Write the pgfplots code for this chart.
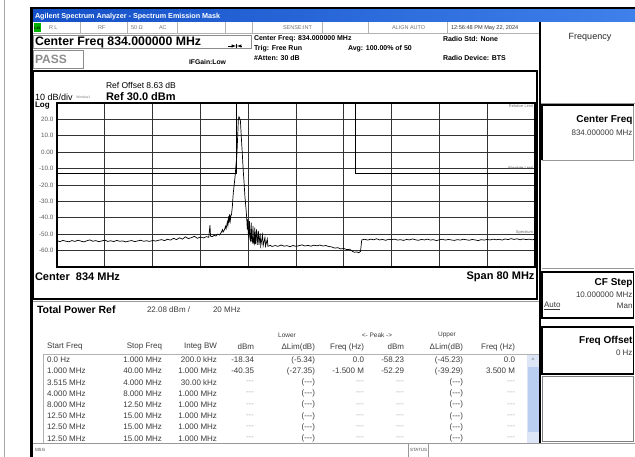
\documentclass[border=0pt]{standalone}
\usepackage{fontspec}
\setmainfont{Liberation Sans}
\usepackage{pgfplots}
\pgfplotsset{compat=1.18}
\newcommand{\fs}[1]{\fontsize{#1}{#1}\selectfont}
\definecolor{tbarL}{HTML}{1450C8}
\definecolor{tbarR}{HTML}{3F80EA}
\definecolor{txt}{HTML}{3A3A3A}
\definecolor{lgray}{HTML}{B0B0B0}
\definecolor{sbar}{HTML}{DCE6F7}
\definecolor{sthumb}{HTML}{B9CEF0}
\newcommand{\trow}[9]{%
  \node[anchor=west] at (47,\ry) {#1};
  \node[anchor=east] at (162,\ry) {#2};
  \node[anchor=east] at (217,\ry) {#3};
  \node[anchor=east] at (254,\ry) {#4};
  \node[anchor=east] at (315,\ry) {#5};
  \node[anchor=east] at (364,\ry) {#6};
  \node[anchor=east] at (404,\ry) {#7};
  \node[anchor=east] at (463,\ry) {#8};
  \node[anchor=east] at (515,\ry) {#9};}
\newcommand{\dsh}{\textcolor{lgray}{{-}{-}{-}}}
\newcommand{\pdsh}{({-}{-}{-})}
\begin{document}
\begin{tikzpicture}
\useasboundingbox (0pt,0pt) rectangle (635pt,-457pt);
\begin{scope}[x=1pt,y=-1pt,every node/.style={inner sep=0pt,outer sep=0pt}]
% left gray strip line
\draw[black!35,line width=1pt] (4,0) -- (4,457);
% window frame
\fill[black] (30,7) rectangle (635,10);
\fill[black] (30,7) rectangle (33,457);
% title bar
\shade[left color=tbarL,right color=tbarR] (33,10) rectangle (635,22);
\node[anchor=west,text=white] at (35,16.3) {\fs{7.2}\bfseries Agilent Spectrum Analyzer - Spectrum Emission Mask};
% status row
\fill[white] (33,22) rectangle (635,33);
\draw[black!30,line width=0.5pt] (33,33) -- (540,33);
\foreach \xx in {80,127,177,225,252,322,368,447} \draw[black!30,line width=0.5pt] (\xx,22.5) -- (\xx,33);
\fill[green!70!black] (33.5,23.5) rectangle (41,32);
\node[text=black] at (37.2,28) {\fs{3.5}\bfseries LXI};
\node[anchor=west,text=black!55] at (49,28) {\fs{5.5}R L};
\node[anchor=west,text=black!55] at (98,28) {\fs{5.5}RF};
\node[anchor=west,text=black!55] at (131,28) {\fs{5.5}50 Ω};
\node[anchor=west,text=black!55] at (159,28) {\fs{5.5}AC};
\node[anchor=west,text=black!55] at (283,28) {\fs{5.5}SENSE:INT};
\node[anchor=west,text=black!55] at (392,28) {\fs{5.5}ALIGN AUTO};
\node[anchor=west,text=black!80] at (451,28) {\fs{5.6}12:56:48 PM May 22, 2024};
% header zone
\draw[black!45,line width=0.6pt] (33.5,35) rectangle (251,48);
\node[anchor=west] at (35,42.3) {\fs{12.3}\bfseries Center Freq 834.000000 MHz};
\draw[black!45,line width=0.6pt] (33.5,50) rectangle (83,68);
\node[anchor=west,text=black!45] at (35,59) {\fs{12}\bfseries PASS};
\node[anchor=west] at (189,62) {\fs{6.8}\bfseries IFGain:Low};
\draw[black,line width=0.5pt,-latex] (228,46) -- (236,46);
\draw[black,line width=0.5pt] (236.5,44) -- (236.5,48);
\draw[black,line width=0.5pt,latex-] (237,46) -- (242,46);
\node[anchor=west] at (254,39) {\fs{7}\bfseries Center Freq: 834.000000 MHz};
\node[anchor=west] at (254,48.5) {\fs{7}\bfseries Trig: Free Run};
\node[anchor=west] at (348,48.5) {\fs{7}\bfseries Avg: 100.00\% of 50};
\node[anchor=west] at (254,58.5) {\fs{7}\bfseries \#Atten: 30 dB};
\node[anchor=west] at (443,39) {\fs{7}\bfseries Radio Std: None};
\node[anchor=west] at (443,58.5) {\fs{7}\bfseries Radio Device: BTS};
% plot box
\draw[black,line width=2pt] (33,71) rectangle (537,299);
\node[anchor=west] at (106,85) {\fs{8.5}Ref Offset 8.63 dB};
\node[anchor=west] at (35,97.5) {\fs{9}10 dB/div};
\node[anchor=west,text=black!50] at (76,97.5) {\fs{3.5}Window1};
\node[anchor=west] at (106,97) {\fs{11}\bfseries Ref 30.0 dBm};
\node[anchor=west] at (35,105.5) {\fs{8}\bfseries Log};
\node[anchor=west] at (35,277) {\fs{11}\bfseries Center\ \ 834 MHz};
\node[anchor=east] at (534.5,277) {\fs{11}\bfseries Span 80 MHz};
\end{scope}
\begin{axis}[
  at={(57pt,-267pt)}, anchor=south west, scale only axis,
  width=478pt, height=164pt,
  xmin=-40, xmax=40, ymin=-70, ymax=30,
  xtick={-32,-24,...,32}, xticklabels={},
  ytick={-60,-50,...,20},
  yticklabels={-60.0,-50.0,-40.0,-30.0,-20.0,-10.0,0.00,10.0,20.0},
  yticklabel style={font=\fs{6.3}, text=black!65},
  grid=major, major grid style={black!80, line width=0.6pt},
  major tick length=0pt,
  axis line style={black, line width=1.2pt},
  clip=true]
\addplot[black, line width=0.6pt] coordinates {(-40,-13) (-10,-13) (-10,30)};
\addplot[black, line width=0.6pt] coordinates {(10,30) (10,-13) (40,-13)};
\addplot[black, line width=0.7pt] coordinates {
(-40,-54.0) (-39.5,-54.5) (-39,-53.8) (-38.5,-54.3) (-38,-54.6) (-37.5,-53.9) (-37,-54.4) (-36.5,-53.7)
(-36,-54.2) (-35.5,-54.7) (-35,-54.0) (-34.5,-53.5) (-34,-54.3) (-33.5,-53.9) (-33,-54.6) (-32.5,-54.1)
(-32,-53.6) (-31.5,-54.4) (-31,-54.0) (-30.5,-54.5) (-30,-53.8) (-29.5,-54.3) (-29,-54.1) (-28.5,-54.7)
(-28,-54.2) (-27.5,-53.9) (-27,-54.5) (-26.5,-54.1) (-26,-53.7) (-25.5,-54.3) (-25,-54.0) (-24.5,-54.4)
(-24,-53.8) (-23.5,-54.2) (-23,-53.7) (-22.5,-53.3) (-22,-53.9) (-21.5,-53.1) (-21,-53.6) (-20.5,-52.5)
(-20,-53.3) (-19.5,-52.2) (-19,-53.0) (-18.5,-51.6) (-18,-52.7) (-17.5,-52.1) (-17,-51.3) (-16.5,-52.5)
(-16,-51.7) (-15.5,-52.3) (-15,-51.5) (-14.6,-51.9) (-14.4,-44.5) (-14.3,-51.2) (-14,-51.5) (-13.7,-50.7)
(-13.4,-51.1) (-13.1,-49.9) (-12.8,-50.5) (-12.5,-48.9) (-12.3,-47.2) (-12.2,-48.7) (-12.0,-47.5) (-11.8,-45.2)
(-11.7,-46.7) (-11.5,-42.7) (-11.4,-44.7) (-11.3,-39.2) (-11.2,-43.2) (-11.1,-37.7) (-11.0,-41.7) (-10.9,-38.7)
(-10.8,-38.2) (-10.65,-33) (-10.5,-25) (-10.35,-20) (-10.2,-15) (-10.05,-8) (-9.9,-2) (-9.78,8)
(-9.65,19.6) (-9.55,21.6) (-9.45,21.0) (-9.3,19.0) (-9.15,9) (-9.0,0) (-8.85,-10) (-8.7,-18)
(-8.55,-27) (-8.4,-33) (-8.25,-40) (-8.15,-47) (-8.1,-41) (-8.0,-49) (-7.9,-52) (-7.8,-42)
(-7.7,-53) (-7.6,-54) (-7.5,-43) (-7.4,-54) (-7.3,-55) (-7.2,-45) (-7.1,-55) (-7.0,-56)
(-6.9,-46) (-6.8,-56) (-6.6,-47) (-6.5,-56.5) (-6.3,-48) (-6.2,-56.5) (-6.0,-49.5) (-5.9,-57)
(-5.6,-50.5) (-5.5,-57) (-5.2,-52) (-5.1,-57.3) (-4.8,-53) (-4.7,-57.4) (-4.3,-56.8) (-4.0,-57.5)
(-3.5,-56.9) (-3.0,-57.4) (-2.5,-56.6) (-2.0,-57.3) (-1.5,-57.0) (-1.0,-57.6) (-0.5,-56.9) (0,-57.4)
(0.5,-57.0) (1.0,-56.5) (1.5,-57.2) (2.0,-56.8) (2.5,-57.3) (3.0,-56.7) (3.5,-57.1) (4.0,-56.6)
(4.5,-57.2) (5.0,-56.9) (5.5,-57.5) (6.0,-57.8) (6.5,-58.5) (7.0,-58.2) (7.5,-59.0) (8.0,-58.7)
(8.5,-59.4) (9.0,-59.2) (9.5,-60.6) (9.8,-61.0) (10.2,-60.8) (10.5,-61.3) (10.8,-60.5) (11.0,-53.5)
(11.5,-53.1) (12,-53.6) (12.5,-53.0) (13,-53.4) (13.5,-52.8) (14,-53.5) (14.5,-53.2) (15,-53.7)
(15.5,-53.1) (16,-53.4) (16.5,-53.0) (17,-53.6) (17.5,-53.3) (18,-53.8) (18.5,-53.2) (19,-53.5)
(19.5,-52.9) (20,-53.4) (20.5,-53.7) (21,-53.2) (21.5,-53.5) (22,-53.0) (22.5,-53.6) (23,-53.3)
(23.5,-53.9) (24,-53.4) (24.5,-53.1) (25,-53.6) (25.5,-53.2) (26,-53.5) (26.5,-53.8) (27,-53.3)
(27.5,-53.6) (28,-53.1) (28.5,-53.4) (29,-53.7) (29.5,-53.2) (30,-53.5) (30.5,-53.9) (31,-53.3)
(31.5,-53.6) (32,-53.2) (32.5,-53.5) (33,-53.0) (33.5,-53.4) (34,-53.1) (34.5,-53.6) (35,-52.9)
(35.5,-53.3) (36,-52.7) (36.5,-53.2) (37,-52.8) (37.5,-53.4) (38,-52.9) (38.5,-53.3) (39,-53.0)
(39.5,-53.4) (40,-53.1)};
\end{axis}
\begin{scope}[x=1pt,y=-1pt,every node/.style={inner sep=0pt,outer sep=0pt}]
\node[anchor=east,text=black!55] at (533,106) {\fs{4}Relative Limit};
\node[anchor=east,text=black!70] at (533,168) {\fs{4}Absolute Limit};
\node[anchor=east,text=black!60] at (533,233) {\fs{4}Spectrum};
% total power section
\draw[black!40,line width=0.8pt] (33,301) -- (540,301);
\node[anchor=west] at (37,309.5) {\fs{10.5}\bfseries Total Power Ref};
\node[anchor=west,text=txt] at (147,310) {\fs{8}22.08 dBm /};
\node[anchor=west,text=txt] at (213,310) {\fs{8}20 MHz};
\begin{scope}[every node/.append style={text=txt,font=\fs{6.5}}]
\node at (287,335) {Lower};
\node at (377,335) {<- Peak ->};
\node at (447,335) {Upper};
\end{scope}
\def\ry{347}
\begin{scope}[every node/.append style={text=txt,font=\fs{8}}]
\trow{Start Freq}{Stop Freq}{Integ BW}{dBm}{ΔLim(dB)}{Freq (Hz)}{dBm}{ΔLim(dB)}{Freq (Hz)}
\end{scope}
\draw[black!30,line width=0.6pt] (43.5,354) rectangle (540,444);
\fill[sbar] (527,355) rectangle (539.5,443);
\fill[sthumb] (528,367) rectangle (538.5,432);
\node[text=black!60] at (533,360) {\fs{6}\^{}};
\begin{scope}[every node/.append style={text=txt,font=\fs{8}}]
\def\ry{360}\trow{0.0 Hz}{1.000 MHz}{200.0 kHz}{-18.34}{(-5.34)}{0.0}{-58.23}{(-45.23)}{0.0}
\def\ry{371.2}\trow{1.000 MHz}{40.00 MHz}{1.000 MHz}{-40.35}{(-27.35)}{-1.500 M}{-52.29}{(-39.29)}{3.500 M}
\def\ry{382.4}\trow{3.515 MHz}{4.000 MHz}{30.00 kHz}{\dsh}{\pdsh}{\dsh}{\dsh}{\pdsh}{\dsh}
\def\ry{393.6}\trow{4.000 MHz}{8.000 MHz}{1.000 MHz}{\dsh}{\pdsh}{\dsh}{\dsh}{\pdsh}{\dsh}
\def\ry{404.8}\trow{8.000 MHz}{12.50 MHz}{1.000 MHz}{\dsh}{\pdsh}{\dsh}{\dsh}{\pdsh}{\dsh}
\def\ry{416}\trow{12.50 MHz}{15.00 MHz}{1.000 MHz}{\dsh}{\pdsh}{\dsh}{\dsh}{\pdsh}{\dsh}
\def\ry{427.2}\trow{12.50 MHz}{15.00 MHz}{1.000 MHz}{\dsh}{\pdsh}{\dsh}{\dsh}{\pdsh}{\dsh}
\def\ry{438.4}\trow{12.50 MHz}{15.00 MHz}{1.000 MHz}{\dsh}{\pdsh}{\dsh}{\dsh}{\pdsh}{\dsh}
\end{scope}
% right panel
\fill[white] (540,22) rectangle (635,443);
\draw[black,line width=1.2pt] (540,22) -- (540,443);
\node[text=black!85] at (590,37) {\fs{9}Frequency};
\draw[black!40,line width=0.8pt] (541,103) -- (635,103);
\draw[black!40,line width=0.8pt] (542,105) rectangle (633.5,160);
\draw[black,line width=1.5pt] (542,160) -- (542,105) -- (633.5,105);
\node[anchor=east] at (632.5,120) {\fs{10}\bfseries Center Freq};
\node[anchor=east,text=txt] at (632.5,133) {\fs{8}834.000000 MHz};
\draw[black!40,line width=0.8pt] (542,268) -- (633.5,268);
\draw[black,line width=1.2pt] (542,272) rectangle (633.5,318);
\node[anchor=east] at (632.5,283) {\fs{10}\bfseries CF Step};
\node[anchor=east,text=txt] at (632.5,295) {\fs{8}10.000000 MHz};
\node[anchor=west,text=txt] at (544,306) {\fs{8}\underline{Auto}};
\node[anchor=east,text=txt] at (632.5,306) {\fs{8}Man};
\draw[black,line width=1.2pt] (542,327) rectangle (633.5,374);
\node[anchor=east] at (632.5,341) {\fs{10}\bfseries Freq Offset};
\node[anchor=east,text=txt] at (632.5,353) {\fs{8}0 Hz};
\draw[black!50,line width=0.8pt] (542,376) rectangle (633.5,441);
% msg bar
\fill[white] (33,443) rectangle (635,457);
\draw[black!40,line width=0.6pt] (33,443) -- (635,443);
\draw[black!40,line width=0.6pt] (408,443) -- (408,457);
\draw[black!40,line width=0.6pt] (428,443) -- (428,457);
\node[anchor=west,text=black!70] at (35,450) {\fs{4.5}MSG};
\node[anchor=west,text=black!70] at (410,450) {\fs{4.5}STATUS};
\end{scope}
\end{tikzpicture}
\end{document}
